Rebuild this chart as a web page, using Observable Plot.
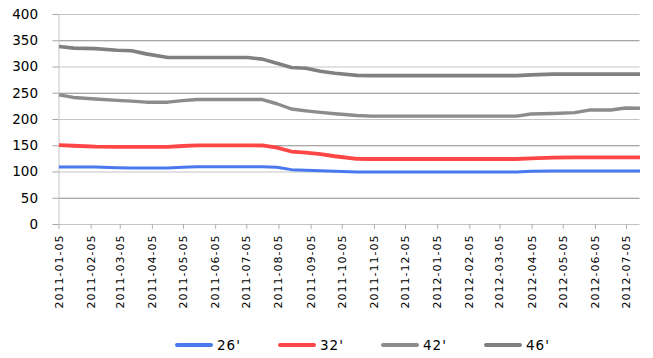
<!DOCTYPE html>
<html>
<head>
<meta charset="utf-8">
<script src="https://cdn.jsdelivr.net/npm/d3@7"></script>
<script src="https://cdn.jsdelivr.net/npm/@observablehq/plot@0.6"></script>
<style>
  html, body { margin: 0; padding: 0; background: #fff; }
  body { font-family: "DejaVu Sans", sans-serif; }
  #wrap { position: relative; width: 653px; height: 358px; overflow: hidden; }
  g[aria-label="x-axis tick label"] text { letter-spacing: 1px; }
  #legend { position: absolute; left: 175px; top: 336px; display: flex; font-size: 13.5px; letter-spacing: 1px; color: #000; }
  #legend .item { width: 103px; display: flex; align-items: center; height: 18px; }
  #legend .sw { width: 38px; height: 4px; border-radius: 2px; margin-right: 4px; }
</style>
</head>
<body>
<div id="wrap"></div>
<script>
const dates = [
  "2011-01-05","2011-01-19","2011-02-09","2011-03-02","2011-03-16","2011-03-30",
  "2011-04-20","2011-05-04","2011-05-18","2011-07-06","2011-07-20","2011-08-03",
  "2011-08-17","2011-08-31","2011-09-14","2011-09-28","2011-10-19","2011-11-02",
  "2012-03-21","2012-04-04","2012-04-25","2012-05-16","2012-05-30","2012-06-20",
  "2012-07-04","2012-07-18"
];
const s26 = [109.5,109.5,109.5,108,107.6,107.6,107.6,109,110,110,110,109,104.5,103.5,102.5,101.5,100,100,100,101.5,102,102,102,102,102,102];
const s32 = [151,150,148.5,148,148,148,148,149.5,150.8,150.8,150.5,146.5,139,137,134,130,125,124.8,124.8,126,127.5,128,128,128,128,128];
const s42 = [247,242,239,236.5,235,233,233,236,238,238,238,230,220,216.5,213.5,211,207.5,206.5,206.5,210.5,211.5,213,218,218,222,221.5];
const s46 = [339,336,335,332,331,325,318,318,318,318,315,307,299,297.5,292,288,284,283.5,283.5,285,286.5,286.5,286.5,286.5,286.5,286.5];

const seriesNames = ["26'", "32'", "42'", "46'"];
const seriesColors = ["#4a78ee", "#ff4646", "#8c8c8c", "#808080"];
const seriesWidths = [3, 3.8, 3.4, 3.6];

const yTicks = [0, 50, 100, 150, 200, 250, 300, 350, 400];
const xTickLabels = [
  "2011-01-05","2011-02-05","2011-03-05","2011-04-05","2011-05-05","2011-06-05",
  "2011-07-05","2011-08-05","2011-09-05","2011-10-05","2011-11-05","2011-12-05",
  "2012-01-05","2012-02-05","2012-03-05","2012-04-05","2012-05-05","2012-06-05","2012-07-05"
];

const parse = d3.utcParse("%Y-%m-%d");
const allSeries = [s26, s32, s42, s46];
const data = allSeries.flatMap((vals, i) =>
  vals.map((v, j) => ({date: parse(dates[j]), value: v, series: seriesNames[i]}))
);
const xTicks = xTickLabels.map(parse);

const lineMarks = seriesNames.map((name, i) =>
  Plot.line(data.filter(d => d.series === name), {
    x: "date", y: "value", stroke: seriesColors[i], strokeWidth: seriesWidths[i],
    strokeLinejoin: "round", strokeLinecap: "butt"
  })
);

const chart = Plot.plot({
  width: 653,
  height: 320,
  marginLeft: 58.5,
  marginRight: 13.5,
  marginTop: 14,
  marginBottom: 96,
  style: {fontFamily: "DejaVu Sans, sans-serif", background: "white", color: "#000"},
  x: {type: "utc", domain: [parse(dates[0]), parse(dates[dates.length - 1])]},
  y: {domain: [0, 400]},
  marks: [
    Plot.ruleY(yTicks.filter(v => v % 100 === 50), {stroke: "#8a8a8a", strokeWidth: 1}),
    Plot.ruleY(yTicks.filter(v => v % 100 === 0 && v > 0), {stroke: "#c4c4c4", strokeWidth: 1}),
    Plot.ruleX([parse(dates[0])], {stroke: "#c4c4c4"}),
    Plot.ruleY([0], {stroke: "#c4c4c4"}),
    Plot.axisY(yTicks, {tickSize: 6, tickPadding: 15, fontSize: 13.5, stroke: "#a8a8a8", fill: "#000", label: null}),
    Plot.axisX(xTicks, {tickFormat: d3.utcFormat("%Y-%m-%d"), tickRotate: -90, tickSize: 5, tickPadding: 5, fontSize: 11, stroke: "#b0b0b0", fill: "#000", label: null}),
    ...lineMarks
  ]
});

const wrap = document.getElementById("wrap");
wrap.appendChild(chart);

const legend = document.createElement("div");
legend.id = "legend";
seriesNames.forEach((name, i) => {
  const item = document.createElement("div");
  item.className = "item";
  const sw = document.createElement("span");
  sw.className = "sw";
  sw.style.background = seriesColors[i];
  const lab = document.createElement("span");
  lab.textContent = name;
  item.appendChild(sw);
  item.appendChild(lab);
  legend.appendChild(item);
});
wrap.appendChild(legend);
</script>
</body>
</html>
